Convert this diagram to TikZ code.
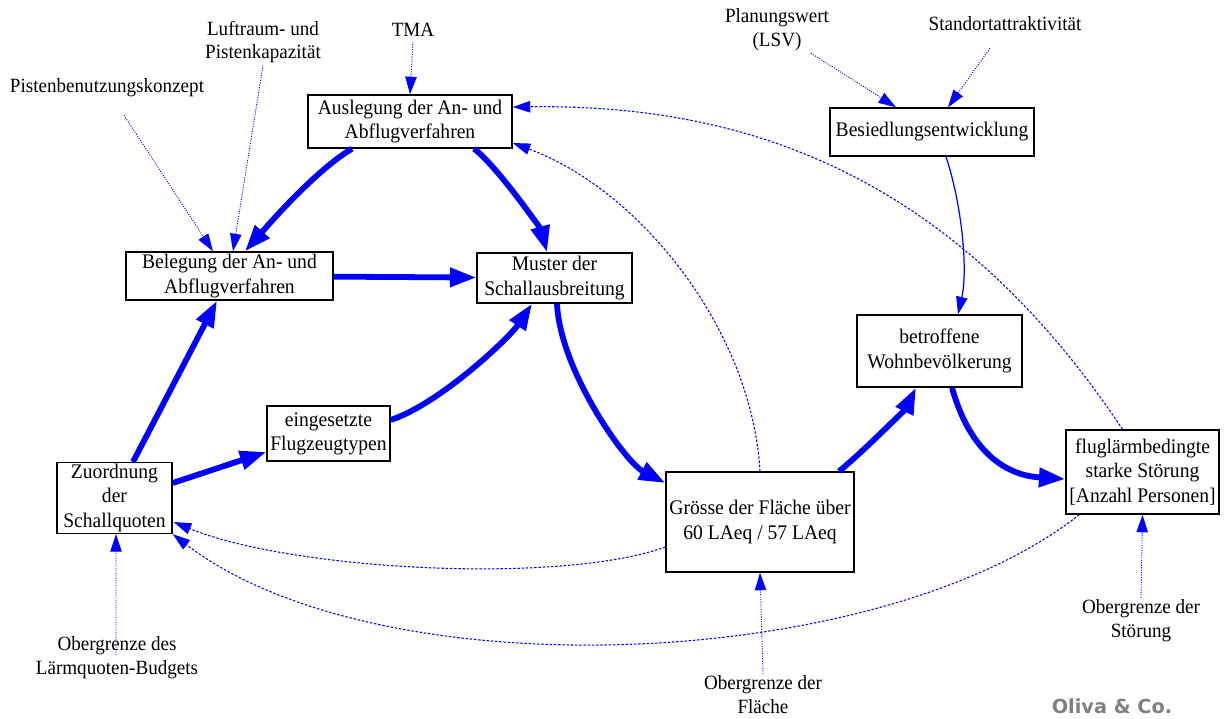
\documentclass[tikz,border=0pt]{standalone}
\usepackage{fontspec}
\setmainfont{Liberation Serif}[FakeStretch=0.945]
\newfontfamily\logofont{DejaVu Sans}
\usetikzlibrary{arrows.meta,calc}
\definecolor{logograu}{RGB}{128,128,128}
\def\dfat{\draw[blue,line width=3.3pt,-{Triangle[length=15pt,width=10.5pt]}]}
\def\dthin{\draw[blue,line width=0.7pt,-{Triangle[length=10pt,width=6.5pt]}]}
\def\ddash{\draw[blue,line width=0.6pt,dash pattern=on 1.4pt off 1pt,-{Triangle[length=10pt,width=6.5pt]}]}
\def\dfein{\draw[blue,line width=0.5pt,dash pattern=on 0.6pt off 0.8pt,-{Triangle[length=10pt,width=6.5pt]}]}
\begin{document}
\begin{tikzpicture}[x=0.02cm,y=-0.02cm,
    kasten/.style={draw,line width=0.8pt,align=center,inner sep=1pt,font=\fontsize{11.8}{13.8}\selectfont},
    quelle/.style={align=center,inner sep=1pt,font=\fontsize{11.5}{13.6}\selectfont}]
\useasboundingbox (0,0) rectangle (1227,718);
\node[kasten,minimum width=4.08cm,minimum height=1.06cm] (ausl) at (410,121.5) {Auslegung der An- und\\Abflugverfahren};
\node[kasten,minimum width=4.14cm,minimum height=0.96cm] (beleg) at (229.5,276) {Belegung der An- und\\Abflugverfahren};
\node[kasten,minimum width=3.10cm,minimum height=1.00cm] (muster) at (554.5,278) {Muster der\\Schallausbreitung};
\node[kasten,minimum width=4.08cm,minimum height=0.96cm] (bes) at (932,132) {Besiedlungsentwicklung};
\node[kasten,minimum width=3.30cm,minimum height=1.44cm] (wohn) at (939.5,351) {betroffene\\Wohnbevölkerung};
\node[kasten,minimum width=2.46cm,minimum height=1.10cm] (einges) at (328.5,433.5) {eingesetzte\\Flugzeugtypen};
\node[kasten,minimum width=2.30cm,minimum height=1.36cm] (zuord) at (114.5,498) {Zuordnung\\der\\Schallquoten};
\node[kasten,minimum width=3.76cm,minimum height=2.00cm] (groesse) at (760,522) {Grösse der Fläche über\\60 LAeq / 57 LAeq};
\node[kasten,minimum width=3.06cm,minimum height=1.68cm] (flug) at (1142.5,472) {fluglärmbedingte\\starke Störung\\{[Anzahl Personen]}};
\node[quelle] (tma) at (413,30) {TMA};
\node[quelle] (luft) at (263,42) {Luftraum- und\\Pistenkapazität};
\node[quelle] (piste) at (107,88) {Pistenbenutzungskonzept};
\node[quelle] (plan) at (777,30) {Planungswert\\(LSV)};
\node[quelle] (stand) at (1005,24) {Standortattraktivität};
\node[quelle] (oblq) at (117,658) {Obergrenze des\\Lärmquoten-Budgets};
\node[quelle] (obfl) at (763,695) {Obergrenze der\\Fläche};
\node[quelle] (obst) at (1141,621) {Obergrenze der\\Störung};
\node[anchor=base,inner sep=0pt,text=logograu,font=\logofont\bfseries\fontsize{11}{13}\selectfont] (oliva) at (1112,713) {Oliva \& Co.};
\dfat ($(ausl.south)+(-58,0)$) .. controls (316,170) and (269,224) .. ($(beleg.north)+(15.5,0)$);
\dfat ($(ausl.south)+(64,0)$) .. controls (498,167) and (541,230) .. ($(muster.north)+(-7.5,0)$);
\dfat (beleg) -- (muster);
\dfat ($(zuord.north)+(18.5,0)$) -- ($(beleg.south)+(-12.5,0)$);
\dfat ($(zuord.east)+(0,-15)$) -- ($(einges.west)+(0,18.5)$);
\dfat ($(einges.east)+(0,-13.5)$) .. controls (441,403) and (510,337) .. ($(muster.south)+(-22.5,0)$);
\dfat ($(muster.south)+(2.5,0)$) .. controls (560,370) and (625,462) .. ($(groesse.west)+(0,-39)$);
\dfat ($(groesse.north)+(79,0)$) .. controls (865,450) and (906,408) .. ($(wohn.south)+(-23.5,0)$);
\dfat ($(wohn.south)+(12.5,0)$) .. controls (968,445) and (1000,475) .. ($(flug.west)+(0,7)$);
\dthin ($(bes.south)+(14,0)$) .. controls (962,205) and (968,270) .. ($(wohn.north)+(18.5,0)$);
\dfein ($(tma.south)+(0,3)$) -- (ausl.north);
\dfein (luft.south) -- ($(beleg.north)+(3.5,0)$);
\dfein ($(piste.south)+(17,16)$) -- ($(beleg.north)+(-16.5,0)$);
\dfein ($(plan.south)+(34,0)$) -- ($(bes.north)+(-36,0)$);
\dfein ($(stand.south)+(-15,15)$) -- ($(bes.north)+(16,0)$);
\dfein ($(oblq)+(-1,-3)$) -- ($(zuord.south)+(1.5,0)$);
\dfein (obfl.north) -- (groesse.south);
\dfein (obst.north) -- (flug.south);
\ddash ($(flug.north)+(-20,0)$) .. controls (950,170) and (740,104) .. ($(ausl.east)+(0,-14.5)$);
\ddash (groesse.north) .. controls (752,330) and (640,190) .. ($(ausl.east)+(0,21.5)$);
\ddash ($(groesse.west)+(0,25)$) .. controls (560,585) and (290,570) .. ($(zuord.east)+(1,24)$);
\ddash ($(flug.south west)+(14,0)$) .. controls (880,672) and (380,693) .. (zuord.south east);
\end{tikzpicture}
\end{document}
